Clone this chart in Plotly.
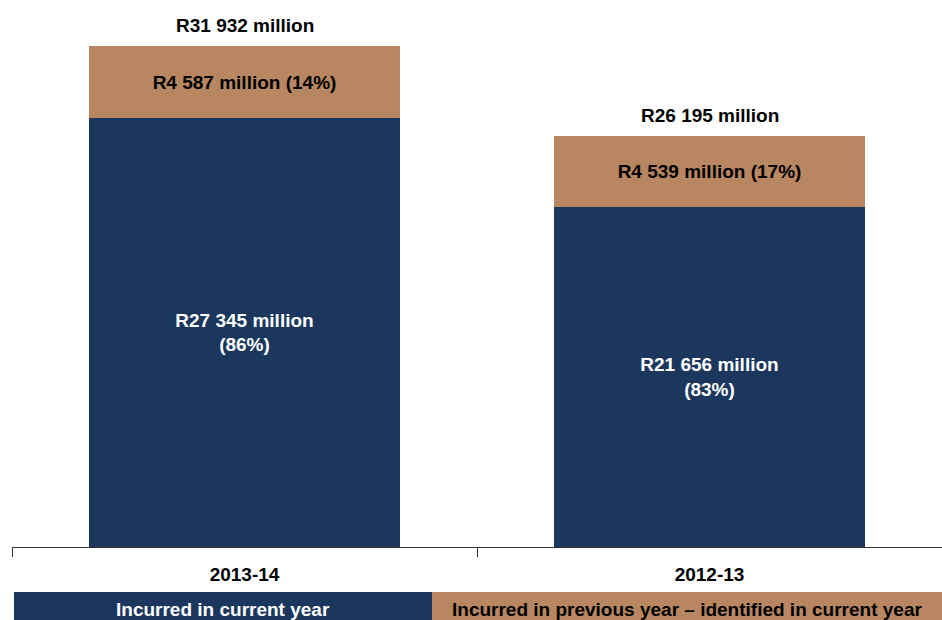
import plotly.graph_objects as go

# Irregular expenditure by year of incurrence (R million)
years = ["2013-14", "2012-13"]
current_year = [27345, 21656]
previous_year = [4587, 4539]
series_names = ["Incurred in current year",
                "Incurred in previous year \u2013 identified in current year"]

NAVY = "#1b375d"
TAN = "#b88660"
FONT = "Liberation Sans, Arial, sans-serif"
FS = 19

PLOT_L, PLOT_W, PLOT_H = 12, 930, 547


def rand(v):
    return "R" + f"{v:,}".replace(",", " ") + " million"


totals = [a + b for a, b in zip(current_year, previous_year)]
cur_text = [f"<b>{rand(v)}<br>({round(100 * v / t)}%)</b>" for v, t in zip(current_year, totals)]
prev_text = [f"<b>{rand(v)} ({round(100 * v / t)}%)</b>" for v, t in zip(previous_year, totals)]

fig = go.Figure()
fig.add_bar(x=years, y=current_year, name=series_names[0], marker_color=NAVY,
            marker_line_width=0, text=cur_text, textposition="inside",
            insidetextanchor="middle", textangle=0,
            textfont=dict(color="white", size=FS, family=FONT))
fig.add_bar(x=years, y=previous_year, name=series_names[1], marker_color=TAN,
            marker_line_width=0, text=prev_text, textposition="inside",
            insidetextanchor="middle", textangle=0,
            textfont=dict(color="black", size=FS, family=FONT))

# Totals above each stack
for yr, t in zip(years, totals):
    fig.add_annotation(x=yr, y=t, text=f"<b>{rand(t)}</b>", showarrow=False,
                       yanchor="bottom", yshift=8,
                       font=dict(color="black", size=FS, family=FONT))

fig.update_layout(
    barmode="stack", bargap=0.33, showlegend=False,
    width=942, height=620, margin=dict(l=PLOT_L, r=0, t=0, b=620 - PLOT_H),
    plot_bgcolor="white", paper_bgcolor="white",
    font=dict(family=FONT, color="black"),
    uniformtext=dict(minsize=10, mode="show"),
)
fig.update_xaxes(showline=True, linecolor="#333333", linewidth=1,
                 ticks="outside", tickson="boundaries", ticklen=9, tickcolor="#333333",
                 tickfont=dict(size=FS, family=FONT, color="black"),
                 tickvals=years, ticktext=[f"<b>{y}</b>" for y in years],
                 ticklabelstandoff=10, showgrid=False)
fig.update_yaxes(range=[0, 34865], visible=False, showgrid=False)


def px_x(p):
    return (p - PLOT_L) / PLOT_W


def px_y(p):
    return (PLOT_H - p) / PLOT_H


# Legend strip along the bottom edge
boxes = [(14, 432, NAVY, "white"), (432, 942, TAN, "black")]
for (x0, x1, fill, fc), name in zip(boxes, series_names):
    fig.add_shape(type="rect", xref="paper", yref="paper", x0=px_x(x0), x1=px_x(x1),
                  y0=px_y(620), y1=px_y(592), fillcolor=fill, line_width=0,
                  layer="below")
    fig.add_annotation(xref="paper", yref="paper", x=px_x((x0 + x1) / 2), y=px_y(609),
                       text=f"<b>{name}</b>", showarrow=False, xanchor="center",
                       yanchor="middle",
                       font=dict(size=FS, family=FONT, color=fc))

fig.write_html("out.html")
